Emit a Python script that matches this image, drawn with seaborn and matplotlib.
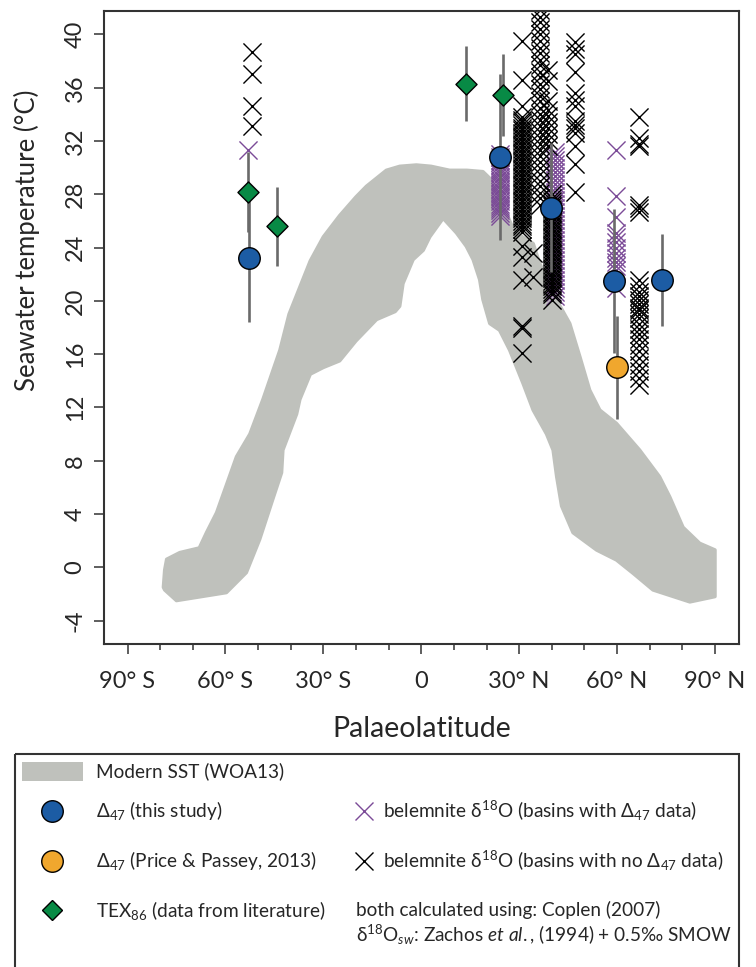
import numpy as np
import pandas as pd
import matplotlib
matplotlib.use("Agg")
import matplotlib.pyplot as plt
from matplotlib.patches import Rectangle
import seaborn as sns

sns.set_style("white")
plt.rcParams["font.family"] = ["Lato", "DejaVu Sans"]
plt.rcParams["mathtext.fontset"] = "custom"
plt.rcParams["mathtext.rm"] = "Lato"
plt.rcParams["mathtext.it"] = "Lato:italic"
plt.rcParams["mathtext.bf"] = "Lato:bold"

# ---------------- data ----------------
# Modern SST (WOA13) cloud envelope: upper edge (S->N) and lower edge (N->S)
sst_up_lat = [-79, -78.6, -78, -74, -68, -65.8, -62.7, -56.6, -52.5, -48.5, -43.3, -40.5,
              -34, -30, -25, -20, -16.8, -10.7, -6.6, -1.5, 3, 8.7, 14, 18.9, 21, 23, 25,
              28, 31, 34.3, 36.3, 41.4, 45.5, 48.6, 51.6, 54.7, 59.8, 66.9, 73, 76.1, 80.2,
              85.3, 90]
sst_up_t = [-1.5, -0.2, 0.6, 1.1, 1.45, 2.6, 4.1, 8.3, 10.0, 12.6, 16.3, 19.0,
            23.0, 24.8, 26.4, 27.8, 28.6, 29.8, 30.1, 30.2, 30.1, 29.8, 29.8, 29.7, 29.2, 28.3, 27.2,
            25.5, 24.8, 24.3, 22.8, 20.1, 18.3, 15.8, 13.3, 11.8, 10.8, 8.8, 6.8, 5.3, 3.0,
            1.8, 1.3]
sst_lo_lat = [90, 82.3, 71, 64.9, 59.8, 53.7, 46.5, 43.0, 41.5, 40.4, 38.4, 34.3, 31.2, 27.1,
              24, 21, 18.9, 17.9, 15.9, 13.8, 10.8, 6.7, 2.6, 0.6, -2.5, -5.6, -6.6, -8, -13.7,
              -20, -25, -30, -34, -37.2, -38.2, -42.4, -42.8, -45.5, -49.5, -53.6, -59.7, -75,
              -78.6, -79]
sst_lo_t = [-2.2, -2.6, -1.7, -0.45, 0.55, 1.3, 2.6, 4.6, 6.8, 8.8, 10.0, 11.8, 13.8, 16.3,
            17.8, 18.3, 20.1, 21.6, 23.1, 24.1, 25.1, 26.2, 24.8, 23.8, 23.1, 21.3, 19.6, 19.2, 18.6,
            17.0, 15.5, 15.0, 14.5, 12.6, 11.5, 8.8, 7.1, 5.1, 2.1, -0.4, -1.9, -2.5,
            -1.7, -1.5]

# Delta47 (this study)
d47_lat = [-52.9, 24.05, 39.9, 59.0, 73.9]
d47_t = [23.2, 30.8, 27.0, 21.5, 21.6]
d47_err = [4.8, 6.2, 4.85, 5.4, 3.45]

# Delta47 (Price & Passey, 2013)
pp_lat = [60.0]
pp_t = [15.0]
pp_err = [3.9]

# TEX86 (literature)
tex_lat = [-53.1, -44.1, 13.8, 24.9]
tex_t = [28.2, 25.6, 36.3, 35.45]
tex_err = [3.0, 2.95, 2.8, 3.1]

# belemnite d18O, basins with D47 data (purple), one list per latitude group
pur_s53 = [31.3]
pur_n24 = [26.4, 26.6, 26.8, 27.0, 27.1, 27.3, 27.5, 27.7, 27.9, 28.0, 28.2, 28.4, 28.6,
           28.8, 28.9, 29.1, 29.3, 29.5, 29.7, 29.8, 30.0, 30.2, 30.4, 30.6, 30.8, 31.0]
pur_n41 = [20.4, 20.7, 21.0, 21.3, 21.6, 21.9, 22.2, 22.5, 22.8, 23.1, 23.4, 23.7, 24.0,
           24.3, 24.6, 24.9, 25.2, 25.5, 25.8, 26.1, 26.4, 26.7, 27.0, 27.3, 27.6, 27.9,
           28.2, 28.5, 28.8, 29.1, 29.4, 29.7, 30.0, 30.3, 30.6, 30.9, 31.2]
pur_n60 = [31.3, 27.9, 26.3, 25.1, 24.8, 24.4, 24.0, 23.6, 23.2, 22.9, 22.6, 22.3, 21.0]
pur_lats = [-53.1, 24.2, 41.0, 59.8]

# belemnite d18O, basins with no D47 data (black)
blk_s52 = [38.7, 37.0, 34.6, 33.1]
blk_n31 = [25.2, 25.4, 25.6, 25.8, 26.0, 26.2, 26.4, 26.6, 26.8, 27.0, 27.2, 27.4, 27.6,
           27.8, 28.0, 28.2, 28.4, 28.6, 28.8, 29.0, 29.2, 29.4, 29.6, 29.8, 30.0, 30.2,
           30.4, 30.6, 30.8, 31.0, 31.2, 31.4, 31.6, 31.8, 32.0, 32.2, 32.4, 32.6, 32.8,
           33.0, 33.2, 33.4, 33.6, 33.8, 34.6, 36.6, 39.5, 24.1, 23.3, 21.6, 18.1, 18.0, 16.1]
blk_n34 = [23.6, 21.8]
blk_n36 = [27.2, 27.7, 28.1, 28.6, 29.0, 29.5, 30.0, 30.4, 30.9, 31.3, 31.8, 32.2, 32.7,
           33.1, 33.6, 34.0, 34.5, 35.0, 35.4, 35.9, 36.3, 36.8, 37.2, 37.7, 38.1, 38.6,
           39.0, 39.5, 40.0, 40.4, 40.9, 41.3, 41.8]
blk_n39 = [31.6, 32.1, 32.5, 33.0, 33.4, 33.9, 34.3, 35.0, 36.5, 37.3]
blk_n40 = [20.1, 20.5, 20.7, 20.9, 21.1, 21.3, 21.5, 21.7, 21.9, 22.1, 22.3, 22.5, 22.7,
           22.9, 23.1, 23.3, 23.5, 23.7, 23.9, 24.1, 24.3, 24.5, 24.7, 24.9, 25.1, 25.3,
           25.5, 25.7, 25.9, 26.1, 26.3, 26.5, 26.7, 26.9, 27.1, 27.3, 27.5, 27.7, 28.0]
blk_n47 = [39.4, 38.9, 38.5, 37.2, 35.6, 35.1, 34.6, 33.5, 33.2, 33.0, 32.6, 31.6, 30.3, 28.2]
blk_n67 = [33.8, 32.2, 31.8, 31.6, 27.2, 27.0, 26.7, 21.6, 21.1, 20.7, 20.4, 20.1, 19.8,
           19.5, 19.3, 19.0, 18.7, 18.3, 17.9, 17.5, 17.1, 16.7, 16.2, 15.7, 15.2, 14.7,
           14.2, 13.7]
blk_lats = [-51.8, 30.8, 34.2, 36.3, 38.8, 40.2, 47.0, 66.7]

xtick_vals = [-90, -60, -30, 0, 30, 60, 90]
xtick_labels = ["90° S", "60° S", "30° S", "0", "30° N", "60° N", "90° N"]
ytick_vals = [-4, 0, 4, 8, 12, 16, 20, 24, 28, 32, 36, 40]

# ---------------- colours ----------------
C_GRAY = "#bfc1bc"
C_BLUE = "#1c5ca4"
C_ORANGE = "#f0a72e"
C_GREEN = "#088a45"
C_PURPLE = "#7b4b97"
C_BAR = "#6a6a6a"
C_SPINE = "#333333"

# ---------------- build frames ----------------
pur_groups = [pur_s53, pur_n24, pur_n41, pur_n60]
blk_groups = [blk_s52, blk_n31, blk_n34, blk_n36, blk_n39, blk_n40, blk_n47, blk_n67]
pur_df = pd.DataFrame({
    "lat": np.concatenate([[la] * len(g) for la, g in zip(pur_lats, pur_groups)]),
    "t": np.concatenate(pur_groups)})
blk_df = pd.DataFrame({
    "lat": np.concatenate([[la] * len(g) for la, g in zip(blk_lats, blk_groups)]),
    "t": np.concatenate(blk_groups)})
d47_df = pd.DataFrame({"lat": d47_lat, "t": d47_t})
pp_df = pd.DataFrame({"lat": pp_lat, "t": pp_t})
tex_df = pd.DataFrame({"lat": tex_lat, "t": tex_t})

# ---------------- figure ----------------
W, H = 756, 967
fig = plt.figure(figsize=(W / 100, H / 100), dpi=100)
ax = fig.add_axes([104 / W, 1 - 644 / H, (738.5 - 104) / W, (644 - 11) / H])
ax.set_facecolor("white")

# modern SST cloud
ax.fill(np.r_[sst_up_lat, sst_lo_lat], np.r_[sst_up_t, sst_lo_t], facecolor=C_GRAY,
        edgecolor=C_GRAY, lw=2.5, joinstyle="round", zorder=1)

# belemnite crosses
sns.scatterplot(data=pur_df, x="lat", y="t", marker="x", color=C_PURPLE, s=170,
                linewidth=1.0, ax=ax, zorder=2, legend=False)
sns.scatterplot(data=blk_df, x="lat", y="t", marker="x", color="black", s=170,
                linewidth=1.0, ax=ax, zorder=2.5, legend=False)

# error bars
ax.errorbar(tex_lat, tex_t, yerr=tex_err, fmt="none", ecolor=C_BAR, elinewidth=1.9, zorder=3)
ax.errorbar(d47_lat, d47_t, yerr=d47_err, fmt="none", ecolor=C_BAR, elinewidth=1.9, zorder=3)
ax.errorbar(pp_lat, pp_t, yerr=pp_err, fmt="none", ecolor=C_BAR, elinewidth=1.9, zorder=3)

# markers
sns.scatterplot(data=tex_df, x="lat", y="t", marker="D", color=C_GREEN, s=115,
                edgecolor="black", linewidth=1.0, ax=ax, zorder=4, legend=False)
sns.scatterplot(data=d47_df, x="lat", y="t", marker="o", color=C_BLUE, s=240,
                edgecolor="black", linewidth=1.0, ax=ax, zorder=4, legend=False)
sns.scatterplot(data=pp_df, x="lat", y="t", marker="o", color=C_ORANGE, s=240,
                edgecolor="black", linewidth=1.0, ax=ax, zorder=4, legend=False)

# axes styling
ax.set_xlim(-97.2, 97.2)
ax.set_ylim(-5.76, 41.76)
ax.set_xticks(xtick_vals)
ax.set_xticklabels(xtick_labels, fontsize=17)
ax.set_xticks(np.arange(-90, 91, 10), minor=True)
ax.set_yticks(ytick_vals)
ax.set_yticklabels([str(v) for v in ytick_vals], fontsize=17, rotation=90, va="center")
ax.tick_params(axis="both", which="major", direction="out", length=7.2, width=1.1,
               color=C_SPINE, bottom=True, left=True)
ax.tick_params(axis="x", which="major", pad=12)
ax.tick_params(axis="y", which="major", pad=6)
ax.tick_params(axis="x", which="minor", direction="out", length=4.5, width=1.1,
               color=C_SPINE, bottom=True)
for sp in ax.spines.values():
    sp.set_visible(True)
    sp.set_color(C_SPINE)
    sp.set_linewidth(1.5)
ax.set_xlabel("Palaeolatitude", fontsize=20.5, va="center")
ax.set_ylabel("Seawater temperature (°C)", fontsize=18.5, va="center")
ax.xaxis.set_label_coords((421.5 - 104) / (738.5 - 104), -(729 - 644) / 633)
ax.yaxis.set_label_coords(-(104 - 27) / (738.5 - 104), (644 - 240) / 633)

# ---------------- legend (pixel coordinates) ----------------
lax = fig.add_axes([0, 0, 1, 1], facecolor="none")
lax.set_xlim(0, W)
lax.set_ylim(H, 0)
lax.axis("off")
lax.add_patch(Rectangle((14.5, 754), 724.5, 260, fill=False, edgecolor=C_SPINE,
                        lw=1.5, clip_on=False))
lax.add_patch(Rectangle((22, 762), 61, 19, facecolor=C_GRAY, edgecolor="none"))
lfs = 13.7
lax.text(96, 771, "Modern SST (WOA13)", fontsize=lfs, va="center", ha="left")
lax.plot([52], [810.7], "o", ms=15.5, mfc=C_BLUE, mec="black", mew=1)
lax.text(96, 810.7, r"Δ$_{47}$ (this study)", fontsize=lfs, va="center", ha="left")
lax.plot([52], [861], "o", ms=15.5, mfc=C_ORANGE, mec="black", mew=1)
lax.text(96, 861, r"Δ$_{47}$ (Price & Passey, 2013)", fontsize=lfs, va="center", ha="left")
lax.plot([52], [910], "D", ms=10.5, mfc=C_GREEN, mec="black", mew=1)
lax.text(96, 910, r"TEX$_{86}$ (data from literature)", fontsize=lfs, va="center", ha="left")
lax.plot([364], [810.7], "x", ms=13, color=C_PURPLE, mew=1)
lax.text(383, 810.7, r"belemnite δ$^{18}$O (basins with Δ$_{47}$ data)", fontsize=lfs,
         va="center", ha="left")
lax.plot([364], [861], "x", ms=13, color="black", mew=1)
lax.text(383, 861, r"belemnite δ$^{18}$O (basins with no Δ$_{47}$ data)", fontsize=lfs,
         va="center", ha="left")
lax.text(356, 910, "both calculated using: Coplen (2007)", fontsize=lfs, va="center", ha="left")
lax.text(356, 935, r"δ$^{18}$O$_{sw}$: Zachos $et\ al.$, (1994) + 0.5‰ SMOW", fontsize=lfs,
         va="center", ha="left")

fig.savefig("out.png", dpi=100)
